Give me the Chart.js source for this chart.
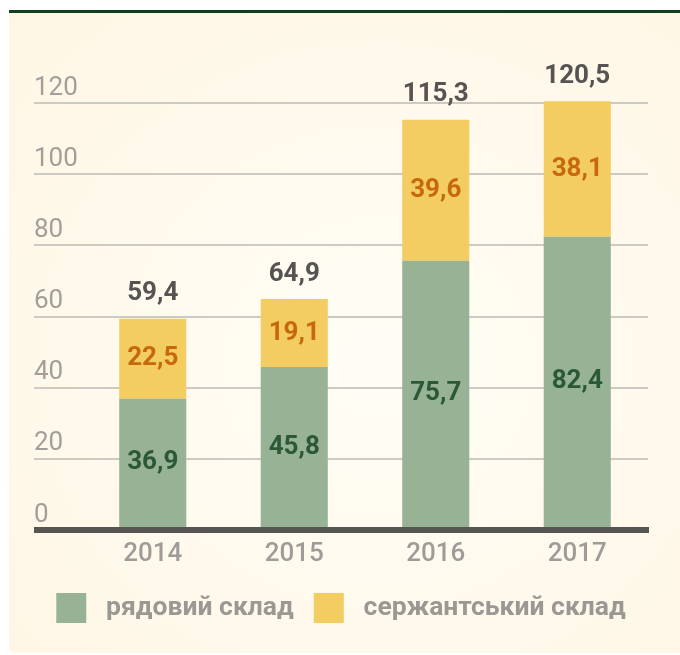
<!DOCTYPE html>
<html>
<head>
<meta charset="utf-8">
<script src="https://cdn.jsdelivr.net/npm/chart.js@4.4.1/dist/chart.umd.min.js"></script>
<style>
  html, body { margin: 0; padding: 0; background: #ffffff; }
  #panel {
    position: absolute; left: 9px; top: 10px; width: 671px; height: 640px;
    border-top: 3px solid #0e3f21;
    border-bottom-left-radius: 6px;
    background: radial-gradient(ellipse at 55% 55%, #fffdf6 0%, #fffaee 45%, #fef6e4 100%);
  }
  canvas { position: absolute; left: 0; top: 0; }
</style>
</head>
<body>
<div id="panel"><canvas id="c" width="671" height="640"></canvas></div>
<script>
// ---- data ----
const years = ['2014', '2015', '2016', '2017'];
const privateRanks = [36.9, 45.8, 75.7, 82.4];
const sergeantRanks = [22.5, 19.1, 39.6, 38.1];
const seriesNames = ['рядовий склад', 'сержантський склад'];
const yTickValues = [0, 20, 40, 60, 80, 100, 120];

const fmt = v => v.toFixed(1).replace('.', ',');

const valueLabels = {
  id: 'valueLabels',
  afterDatasetsDraw(chart) {
    const ctx = chart.ctx;
    ctx.save();
    ctx.textAlign = 'center';
    ctx.textBaseline = 'middle';
    ctx.font = 'bold 26px Roboto';
    const colors = ['#2b5838', '#c8680c'];
    chart.data.datasets.forEach((ds, di) => {
      const meta = chart.getDatasetMeta(di);
      meta.data.forEach((bar, i) => {
        ctx.fillStyle = colors[di];
        ctx.fillText(fmt(ds.data[i]), bar.x, (bar.y + bar.base) / 2);
      });
    });
    const last = chart.getDatasetMeta(chart.data.datasets.length - 1);
    last.data.forEach((bar, i) => {
      const total = chart.data.datasets.reduce((s, ds) => s + ds.data[i], 0);
      ctx.fillStyle = '#555452';
      ctx.fillText(fmt(total), bar.x, bar.y - 25);
    });
    ctx.restore();
  }
};

Chart.defaults.font.family = 'Roboto';

new Chart(document.getElementById('c'), {
  type: 'bar',
  data: {
    labels: years,
    datasets: [
      { label: seriesNames[0], data: privateRanks, backgroundColor: '#97b294', borderWidth: 0 },
      { label: seriesNames[1], data: sergeantRanks, backgroundColor: '#f3cd62', borderWidth: 0 }
    ]
  },
  options: {
    responsive: false,
    animation: false,
    devicePixelRatio: 1,
    layout: { padding: { top: 90, left: 25, right: 32, bottom: 20 } },
    datasets: { bar: { categoryPercentage: 1, barPercentage: 0.474, clip: false } },
    plugins: {
      tooltip: { enabled: false },
      legend: {
        position: 'bottom',
        labels: {
          boxWidth: 30, boxHeight: 30, padding: 20,
          color: '#9a9893',
          font: { size: 26.5, weight: 'bold' },
          generateLabels(chart) {
            return Chart.defaults.plugins.legend.labels.generateLabels(chart)
              .map(l => Object.assign(l, { text: ' ' + l.text }));
          }
        }
      }
    },
    scales: {
      x: {
        stacked: true,
        z: 1,
        afterFit(scale) { scale.height = 43; },
        grid: { display: false, drawTicks: false },
        border: { display: true, color: '#575551', width: 6 },
        ticks: { color: '#9e9c98', font: { size: 26, weight: '500' }, padding: 9 }
      },
      y: {
        stacked: true,
        min: 0, max: 120,
        afterBuildTicks(scale) { scale.ticks = yTickValues.map(v => ({ value: v })); },
        afterFit(scale) { scale.width = 48; },
        border: { display: false },
        grid: {
          tickLength: 48,
          color: c => (c.tick && c.tick.value === 0 ? '#575551' : '#cdcac3'),
          lineWidth: c => (c.tick && c.tick.value === 0 ? 6 : 2)
        },
        ticks: {
          crossAlign: 'far', padding: 0, labelOffset: -15,
          color: '#a19f9a', font: { size: 26, weight: 'normal' }
        }
      }
    }
  },
  plugins: [valueLabels]
});
</script>
</body>
</html>
